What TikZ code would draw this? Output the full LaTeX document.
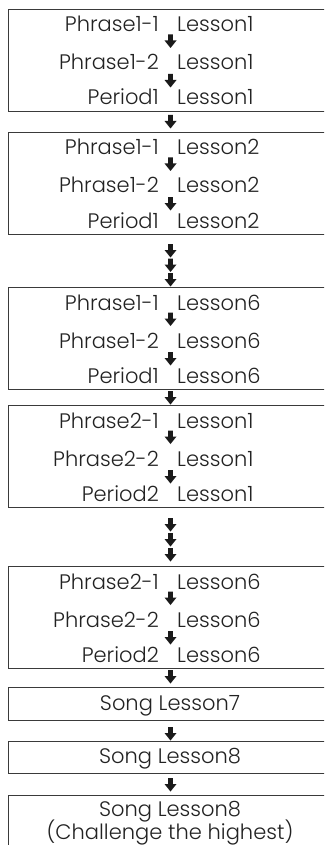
\documentclass[tikz,border=0pt]{standalone}
\usepackage{fontspec}
\setmainfont{Poppins}[UprightFont={* Light}]
\definecolor{txtc}{HTML}{222222}
\definecolor{edgec}{HTML}{3A3A3A}
\definecolor{arrc}{HTML}{1A1A1A}
\tikzset{
  boxst/.style={draw=edgec, line width=1pt, minimum width=324pt, anchor=north west, inner sep=0pt},
  lt/.style={text=txtc, font=\fontsize{21}{24}\selectfont, inner sep=0pt, anchor=base east},
  rt/.style={text=txtc, font=\fontsize{21}{24}\selectfont, inner sep=0pt, anchor=base west},
  ct/.style={text=txtc, font=\fontsize{21}{24}\selectfont, inner sep=0pt, anchor=base},
  darr/.pic={\fill[arrc] (-2.4,0) -- (2.4,0) -- (2.4,-6) -- (6,-6) -- (0,-13.5) -- (-6,-6) -- (-2.4,-6) -- cycle;}
}
\begin{document}
\begin{tikzpicture}[x=1pt,y=1pt]
\clip (0,0) rectangle (324,-845);
% three-line boxes
\foreach \n/\T/\a/\b/\c/\L in {1/9/Phrase1-1/Phrase1-2/Period1/Lesson1,
                                2/132/Phrase1-1/Phrase1-2/Period1/Lesson2,
                                3/287/Phrase1-1/Phrase1-2/Period1/Lesson6,
                                4/405/Phrase2-1/Phrase2-2/Period2/Lesson1,
                                5/566/Phrase2-1/Phrase2-2/Period2/Lesson6}{
  \node[boxst, minimum height=102pt] (b\n) at (8,-\T) {};
  \node[lt] (b\n a) at (159,-\T-23) {\a};
  \node[rt] (b\n A) at (177,-\T-23) {\L};
  \node[lt] (b\n b) at (159,-\T-61) {\b};
  \node[rt] (b\n B) at (177,-\T-61) {\L};
  \node[lt] (b\n c) at (159,-\T-96) {\c};
  \node[rt] (b\n C) at (177,-\T-96) {\L};
  \pic at (170.5,-\T-25.5) {darr};
  \pic at (170.5,-\T-65) {darr};
}
% song boxes
\node[boxst, minimum height=33pt] (b6) at (8,-687) {};
\node[ct] (t6) at (170,-710) {Song Lesson7};
\node[boxst, minimum height=32pt] (b7) at (8,-741) {};
\node[ct] (t7) at (170,-763) {Song Lesson8};
\node[boxst, minimum height=90pt] (b8) at (8,-795) {};
\node[ct] (t8) at (170,-816) {Song Lesson8};
\node[ct] (t8b) at (170,-839) {(Challenge the highest)};
% arrows between boxes
\foreach \y in {115,244,258.5,273,391,518,533,548,670,727,778}{
  \pic at (170.5,-\y) {darr};
}
\end{tikzpicture}
\end{document}
